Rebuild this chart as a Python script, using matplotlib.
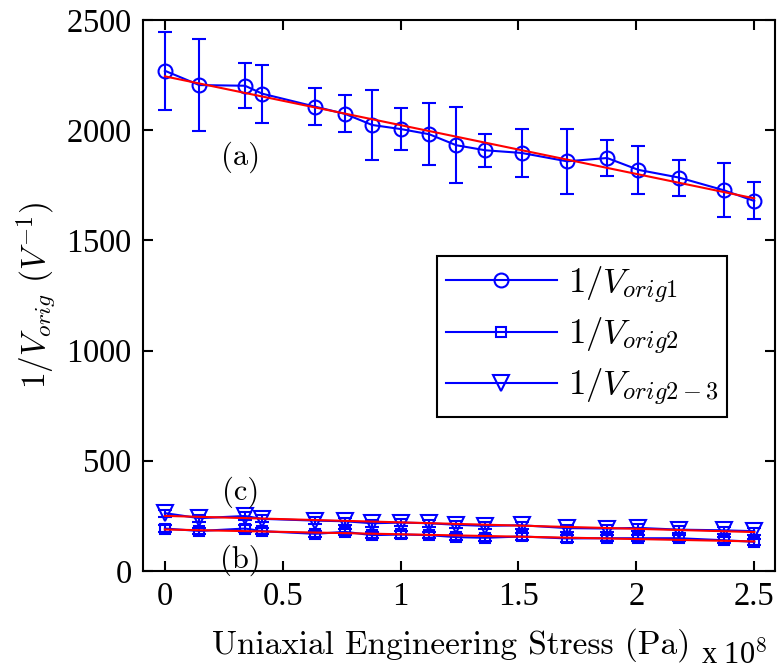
import numpy as np
import matplotlib
matplotlib.use('Agg')
import matplotlib.pyplot as plt
from matplotlib.lines import Line2D

plt.rcParams['font.family'] = ['cmr10', 'DejaVu Serif']
plt.rcParams['mathtext.fontset'] = 'cm'
plt.rcParams['axes.unicode_minus'] = False
plt.rcParams['axes.formatter.use_mathtext'] = True

# stress in units of 1e8 Pa
stress = [0.0, 0.146, 0.34, 0.413, 0.638, 0.765, 0.879, 1.003, 1.121,
          1.236, 1.360, 1.513, 1.706, 1.876, 2.009, 2.182, 2.370, 2.500]
v_orig1 = [2270, 2205, 2202, 2166, 2107, 2074, 2024, 2005, 1982,
           1932, 1909, 1897, 1859, 1874, 1820, 1785, 1728, 1679]
err1 = [178, 210, 102, 131, 83, 84, 157, 96, 140,
        172, 76, 108, 148, 83, 109, 82, 124, 84]
v_orig2 = [192, 181, 192, 180, 168, 177, 162, 165, 162,
           153, 150, 156, 147, 148, 148, 148, 139, 132]
err2 = [14] * 18
v_orig23 = [262, 239, 249, 236, 228, 225, 216, 219, 216,
            209, 204, 207, 194, 192, 195, 187, 184, 180]
err23 = [16] * 18

xticks = [0, 0.5, 1, 1.5, 2, 2.5]
xticklabels = ['0', '0.5', '1', '1.5', '2', '2.5']
yticks = [0, 500, 1000, 1500, 2000, 2500]

BLUE = (0, 0, 1)
RED = (1, 0, 0)

fig = plt.figure(figsize=(7.77, 6.7), dpi=100)
ax = fig.add_axes([0.184, 0.148, 0.814, 0.822])

series = [(v_orig1, err1, 'o', 10, r'$1/V_{orig1}$'),
          (v_orig2, err2, 's', 7, r'$1/V_{orig2}$'),
          (v_orig23, err23, 'v', 11, r'$1/V_{orig2-3}$')]
x = np.array(stress)
handles = []
for y, e, mk, ms, lab in series:
    ax.errorbar(x, y, yerr=e, color=BLUE, lw=1.5, marker=mk, ms=ms,
                mfc='none', mec=BLUE, mew=1.5, capsize=5, capthick=1.5,
                elinewidth=1.5)
    p = np.polyfit(x, y, 1)
    ax.plot(x[[0, -1]], np.polyval(p, x[[0, -1]]), color=RED, lw=1.5, zorder=5)
    handles.append(Line2D([], [], color=BLUE, lw=1.5, marker=mk, ms=ms,
                          mfc='none', mec=BLUE, mew=1.5, label=lab))

ax.set_xlim(-0.093, 2.59)
ax.set_ylim(0, 2500)
ax.set_xticks(xticks)
ax.set_xticklabels(xticklabels)
ax.set_yticks(yticks)
ax.tick_params(direction='in', length=7, width=1.5, labelsize=23.5,
               top=True, right=True, pad=8)
for lbl in ax.get_xticklabels() + ax.get_yticklabels():
    lbl.set_fontfamily('Liberation Serif')
for s in ax.spines.values():
    s.set_linewidth(1.5)

ax.set_xlabel('Uniaxial Engineering Stress (Pa)', fontsize=24)
ax.xaxis.set_label_coords(0.488, -0.151)
ax.xaxis.label.set_va('baseline')
ax.set_ylabel(r'$1/V_{orig}$ $(V^{-1})$', fontsize=24, labelpad=6)
fig.text(701 / 777, 1 - 664 / 670, r'x 10$^{8}$', fontsize=22,
         family='Liberation Serif', ha='left', va='baseline')

ax.text(0.32, 1878, '(a)', fontsize=22, ha='center', va='center')
ax.text(0.32, 358, '(c)', fontsize=22, ha='center', va='center')
ax.text(0.32, 50, '(b)', fontsize=22, ha='center', va='center')

leg = ax.legend(handles=handles, loc='upper left',
                bbox_to_anchor=(0.465, 0.572), borderaxespad=0,
                fontsize=25, frameon=True, fancybox=False,
                edgecolor='black', handlelength=3.2, borderpad=0.25,
                labelspacing=0.3, handletextpad=0.32, framealpha=1)
leg.get_frame().set_linewidth(1.5)

fig.savefig('out.png', dpi=100)
